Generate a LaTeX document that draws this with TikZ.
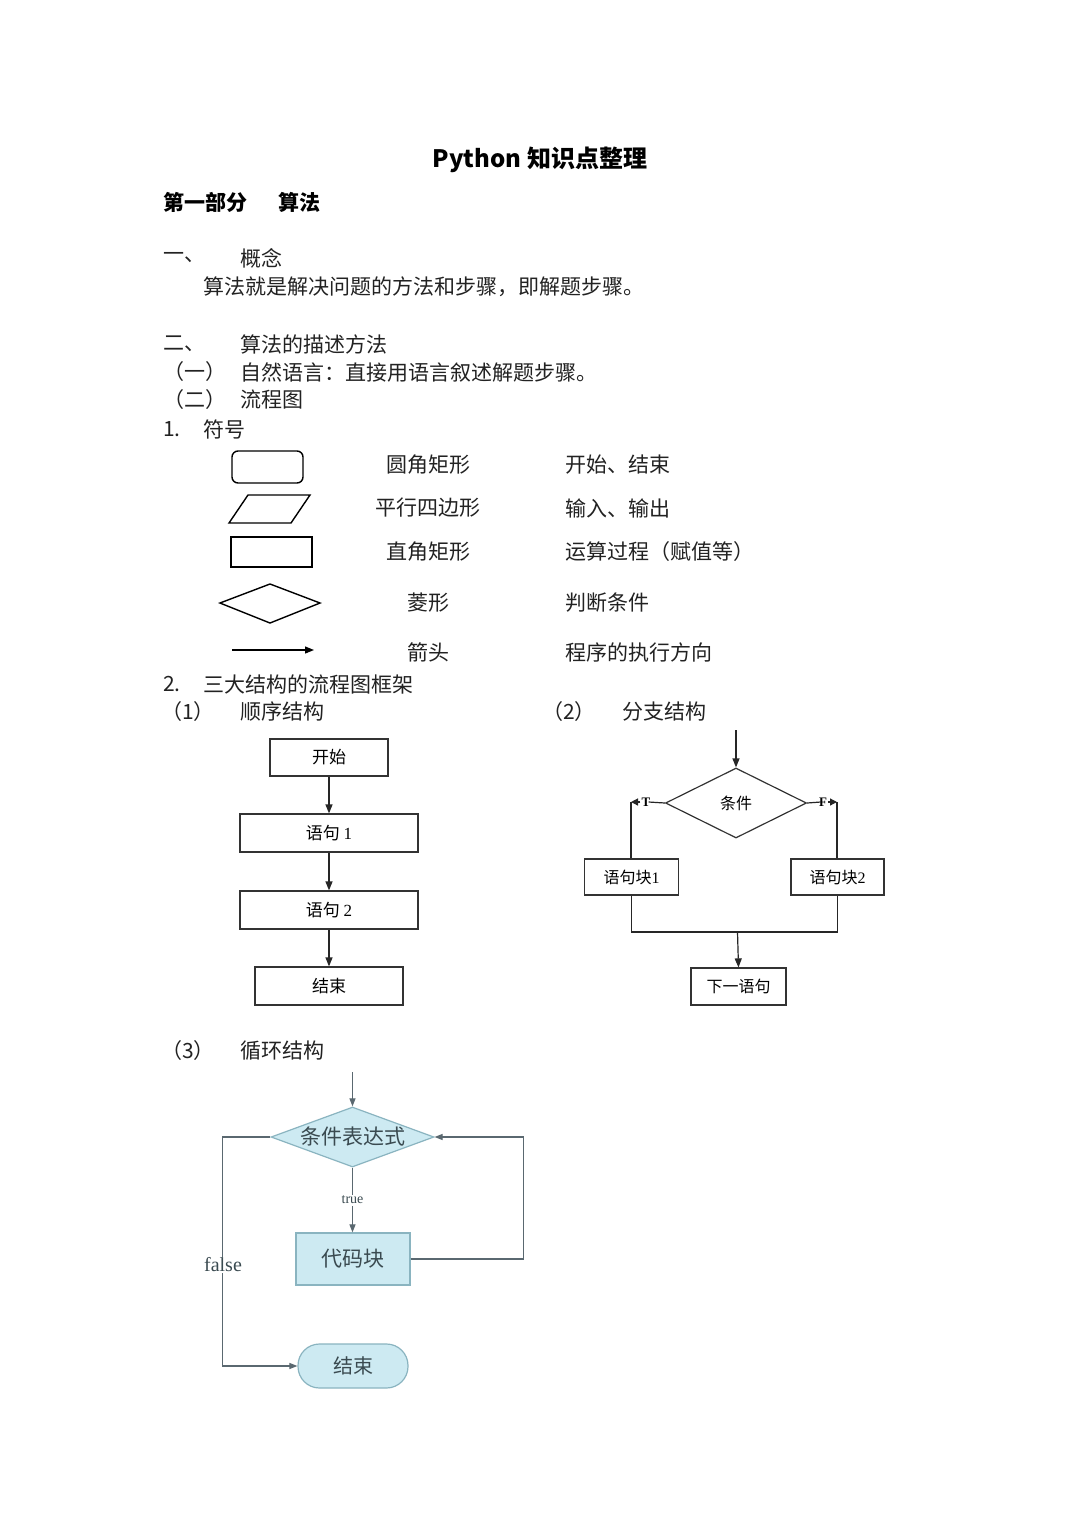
\documentclass[tikz,border=0pt]{standalone}
\usepackage{fontspec}
\setmainfont{Noto Sans CJK SC}
\newfontfamily\serifen{Liberation Serif}
\usetikzlibrary{arrows.meta,shapes.geometric}
\definecolor{inkc}{HTML}{222222}
\definecolor{lbfill}{HTML}{CDEAF2}
\definecolor{lbdraw}{HTML}{8AB4C0}
\definecolor{lline}{HTML}{5A6870}
\definecolor{ltext}{HTML}{3A4A50}
\begin{document}
\begin{tikzpicture}[x=1pt,y=-1pt,
  body/.style={inner sep=0pt, anchor=west, text=inkc, font=\fontsize{21}{25}\selectfont},
  cbody/.style={inner sep=0pt, text=inkc, font=\fontsize{21}{25}\selectfont},
  head/.style={inner sep=0pt, anchor=west, text=black, font=\bfseries\fontsize{21}{25}\selectfont},
  sym/.style={draw=black, line width=1.4pt},
  tip/.style={-{Triangle[length=9pt,width=7pt]}},
  sbox/.style={draw=black!80, line width=1.2pt, inner sep=0pt, text=black, font=\fontsize{17}{20}\selectfont},
  bbox/.style={draw=black!80, line width=1.2pt, inner sep=0pt, text=black, font=\fontsize{16}{19}\selectfont},
  conn/.style={draw=black!85, line width=1.2pt},
  lshape/.style={draw=lbdraw, fill=lbfill, line width=1.2pt, inner sep=0pt, text=ltext, font=\fontsize{21}{25}\selectfont},
  ltxt/.style={inner sep=0pt, text=ltext, font=\fontsize{21}{25}\selectfont},
  lconn/.style={draw=lline, line width=1.1pt},
  ltip/.style={-{Triangle[length=8pt,width=6pt]}}
]
\useasboundingbox[fill=white] (0,0) rectangle (1080,1528);

% ---- header texts
\node[inner sep=0pt, text=black, font=\bfseries\fontsize{24}{28}\selectfont] (title) at (540,160) {Python 知识点整理};
\node[head] (p1a) at (163,202) {第一部分};
\node[head] (p1b) at (278,202) {算法};

\node[body] (s1a) at (163,258) {一、};
\node[body] (s1b) at (240,258) {概念};
\node[body] (s1c) at (203,287) {算法就是解决问题的方法和步骤，即解题步骤。};

\node[body] (s2a) at (163,344) {二、};
\node[body] (s2b) at (240,344) {算法的描述方法};
\node[body] (s2c) at (163,372) {（一）};
\node[body] (s2d) at (240,372) {自然语言：直接用语言叙述解题步骤。};
\node[body] (s2e) at (163,400) {（二）};
\node[body] (s2f) at (240,400) {流程图};
\node[body] (n1a) at (163,429) {1.};
\node[body] (n1b) at (203,429) {符号};

% ---- symbols table
\node[sym, rounded corners=6pt, minimum width=71pt, minimum height=32pt, inner sep=0pt] (symr) at (267.5,467) {};
\draw[sym] (229,523) -- (248,495) -- (310,495) -- (291,523) -- cycle;
\node[sym, minimum width=81pt, minimum height=30pt, inner sep=0pt] (symq) at (271.5,552) {};
\draw[sym] (220,603) -- (270,584) -- (320,603) -- (270,623) -- cycle;
\coordinate (syma1) at (232,650);
\coordinate (syma2) at (314,650);
\draw[sym, line width=1.2pt, tip] (syma1) -- (syma2);

\node[cbody] (l1) at (428,465) {圆角矩形};
\node[cbody] (l2) at (428,508) {平行四边形};
\node[cbody] (l3) at (428,552) {直角矩形};
\node[cbody] (l4) at (428,603) {菱形};
\node[cbody] (l5) at (428,652) {箭头};
\node[body] (m1) at (565,465) {开始、结束};
\node[body] (m2) at (565,508) {输入、输出};
\node[body] (m3) at (565,552) {运算过程（赋值等）};
\node[body] (m4) at (565,603) {判断条件};
\node[body] (m5) at (565,652) {程序的执行方向};

\node[body] (n2a) at (163,684) {2.};
\node[body] (n2b) at (203,684) {三大结构的流程图框架};
\node[body] (c1a) at (161,712) {（1）};
\node[body] (c1b) at (240,712) {顺序结构};
\node[body] (c2a) at (542,712) {（2）};
\node[body] (c2b) at (622,712) {分支结构};

% ---- sequence structure
\node[sbox, minimum width=118pt, minimum height=37pt] (q0) at (329,757.5) {开始};
\node[sbox, minimum width=178pt, minimum height=38pt] (q1) at (329,833) {语句 {\serifen 1}};
\node[sbox, minimum width=178pt, minimum height=38pt] (q2) at (329,910) {语句 {\serifen 2}};
\node[sbox, minimum width=148pt, minimum height=38pt] (q3) at (329,986) {结束};
\draw[conn, tip] (q0) -- (q1);
\draw[conn, tip] (q1) -- (q2);
\draw[conn, tip] (q2) -- (q3);

% ---- branch structure
\coordinate (bin) at (736,730);
\node[bbox, diamond, minimum width=141pt, minimum height=70pt] (bc) at (736,803) {};
\node[inner sep=0pt, text=black, font=\fontsize{16}{19}\selectfont] (bct) at (bc) {条件};
\draw[conn, tip] (bin) -- (bc.north);
\node[inner sep=0pt, font=\serifen\bfseries\fontsize{13}{15}\selectfont] (tl) at (646,802) {T};
\node[inner sep=0pt, font=\serifen\bfseries\fontsize{13}{15}\selectfont] (fl) at (823,802) {F};
\coordinate (tc) at (631,802);
\coordinate (fc) at (837,802);
\draw[conn] (bc.west) -- ([xshift=-2pt]tl.east);
\draw[conn] (bc.east) -- ([xshift=2pt]fl.west);
\draw[conn, -{Triangle[length=7pt,width=7pt]}] ([xshift=-1pt]tl.west) -- (tc);
\draw[conn, -{Triangle[length=7pt,width=7pt]}] ([xshift=1pt]fl.east) -- (fc);
\node[bbox, minimum width=94pt, minimum height=36pt] (b1) at (631.5,877) {语句块{\serifen 1}};
\node[bbox, minimum width=93pt, minimum height=36pt] (b2) at (837.5,877) {语句块{\serifen 2}};
\draw[conn] (tc) -- (tc |- b1.north);
\draw[conn] (fc) -- (fc |- b2.north);
\coordinate (bm) at (737.5,932);
\node[bbox, minimum width=95pt, minimum height=37pt] (bn) at (738.5,986.5) {下一语句};
\draw[conn] (b1.south) -- (b1.south |- bm) -- (b2.south |- bm) -- (b2.south);
\draw[conn, tip] (bm) -- (bn.north);

% ---- loop structure
\node[body] (c3a) at (161,1051) {（3）};
\node[body] (c3b) at (240,1051) {循环结构};
\coordinate (lin) at (352.5,1072);
\node[lshape, diamond, minimum width=163pt, minimum height=60pt] (lc) at (352.5,1137) {};
\node[ltxt] (lct) at (lc) {条件表达式};
\node[lshape, minimum width=114pt, minimum height=52pt] (lk) at (353,1259) {代码块};
\node[lshape, rounded corners=21.5pt, minimum width=110pt, minimum height=44pt, font=\fontsize{20}{24}\selectfont] (le) at (353,1366) {结束};
\draw[lconn, ltip] (lin) -- (lc.north);
\draw[lconn, ltip] (lc.south) -- node[fill=white, inner sep=1.5pt, text=ltext, font=\serifen\fontsize{14}{16}\selectfont] (ltrue) {true} (lc.south |- lk.north);
\draw[lconn, ltip] (lk.east) -- ++(113,0) |- (lc.east);
\draw[lconn, ltip] (lc.west) -- ++(-48,0) |- (le.west);
\node[fill=white, inner sep=1pt, text=ltext, font=\serifen\fontsize{20}{24}\selectfont] (lfalse) at (223,1265) {false};
\end{tikzpicture}
\end{document}
